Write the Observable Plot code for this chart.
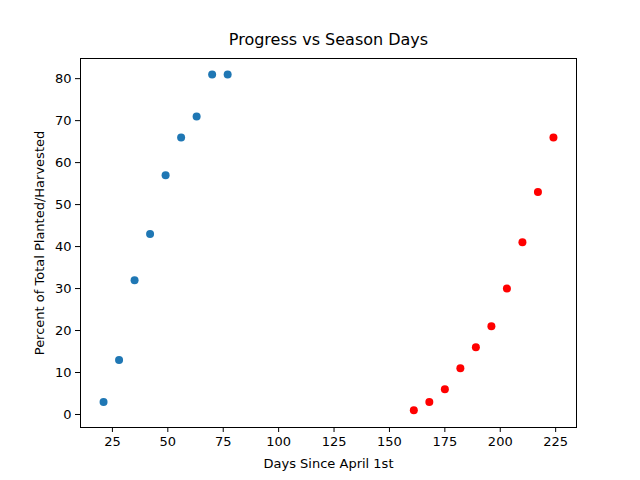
<!DOCTYPE html>
<html><head><meta charset="utf-8">
<script src="https://cdn.jsdelivr.net/npm/d3@7"></script>
<script src="https://cdn.jsdelivr.net/npm/@observablehq/plot@0.6"></script>
<style>body{margin:0;background:#fff}</style>
</head><body><div id="chart"></div>
<script>
const plantDays = [21, 28, 35, 42, 49, 56, 63, 70, 77];
const plantPct = [3, 13, 32, 43, 57, 66, 71, 81, 81];
const harvestDays = [161, 168, 175, 182, 189, 196, 203, 210, 217, 224];
const harvestPct = [1, 3, 6, 11, 16, 21, 30, 41, 53, 66];

const planted = plantDays.map((d, i) => ({x: d, y: plantPct[i]}));
const harvested = harvestDays.map((d, i) => ({x: d, y: harvestPct[i]}));

let chart = Plot.plot({
  width: 640, height: 480,
  marginLeft: 80, marginRight: 64, marginTop: 58, marginBottom: 53,
  style: {fontFamily: 'DejaVu Sans', fontSize: '13px', color: '#000'},
  x: {domain: [10.6, 234.4]},
  y: {domain: [-3.1, 84.8]},
  marks: [
    Plot.frame({stroke: '#000'}),
    Plot.axisX({ticks: d3.range(25, 226, 25), tickSize: 5, tickPadding: 4,
      label: 'Days Since April 1st', labelAnchor: 'center', labelOffset: 40, labelArrow: 'none'}),
    Plot.axisY({ticks: d3.range(0, 81, 10), tickSize: 5, tickPadding: 4,
      label: 'Percent of Total Planted/Harvested', labelAnchor: 'center', labelOffset: 46, labelArrow: 'none'}),
    Plot.dot(planted, {x: 'x', y: 'y', r: 4, fill: '#1f77b4'}),
    Plot.dot(harvested, {x: 'x', y: 'y', r: 4, fill: 'red'}),
    Plot.text(['Progress vs Season Days'], {frameAnchor: 'top', dy: -14, fontSize: 16, lineAnchor: 'bottom'})
  ]
});
d3.select('#chart').append(() => chart);
</script></body></html>
